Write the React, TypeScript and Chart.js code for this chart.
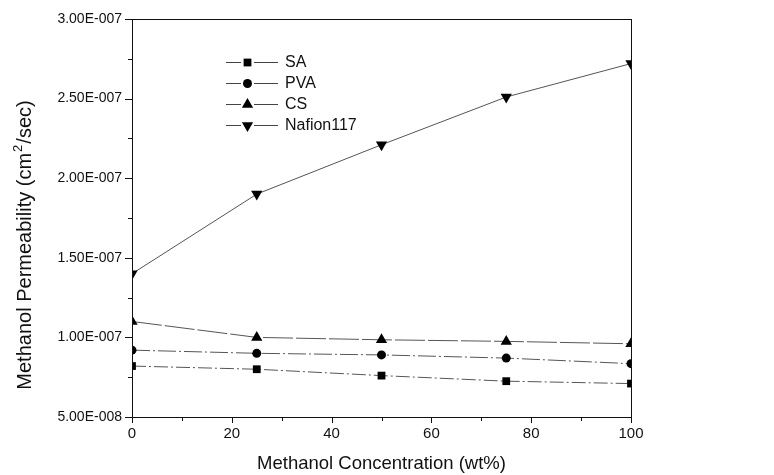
import React, { useEffect, useRef } from "react";
import { Chart, registerables } from "chart.js";
Chart.register(...registerables);

const concentrations = [0, 25, 50, 75, 100];
const saValues = [8.2e-8, 8.0e-8, 7.6e-8, 7.25e-8, 7.1e-8];
const pvaValues = [9.2e-8, 9.0e-8, 8.9e-8, 8.7e-8, 8.35e-8];
const csValues = [1.1e-7, 1.0e-7, 0.985e-7, 0.975e-7, 0.96e-7];
const nafionValues = [1.4e-7, 1.9e-7, 2.21e-7, 2.51e-7, 2.72e-7];
const seriesNames = ["SA", "PVA", "CS", "Nafion117"];
const yMajorTicks = ["5.00E-008", "1.00E-007", "1.50E-007", "2.00E-007", "2.50E-007", "3.00E-007"];
const xMajorTicks = ["0", "20", "40", "60", "80", "100"];
const yTitleParts = ["Methanol Permeability (cm", "2", "/sec)"];

const FONT = "'Liberation Sans', Arial, sans-serif";

function drawMarker(ctx: CanvasRenderingContext2D, style: string, rot: number, x: number, y: number, r: number) {
  ctx.save();
  ctx.translate(x, y);
  ctx.rotate((rot * Math.PI) / 180);
  ctx.beginPath();
  if (style === "rect") {
    const s = r * Math.SQRT1_2 * 2;
    ctx.rect(-s / 2, -s / 2, s, s);
  } else if (style === "circle") {
    ctx.arc(0, 0, r, 0, Math.PI * 2);
  } else {
    ctx.moveTo(0, -r);
    ctx.lineTo(r * 0.866, r * 0.5);
    ctx.lineTo(-r * 0.866, r * 0.5);
    ctx.closePath();
  }
  ctx.fillStyle = "#000";
  ctx.fill();
  ctx.restore();
}

const framePlugin = {
  id: "frameTicks",
  afterDraw(chart: any) {
    const { ctx, chartArea: a, scales } = chart;
    const xs = scales.x, ys = scales.y;
    ctx.save();
    ctx.strokeStyle = "#111";
    ctx.lineWidth = 1;
    ctx.strokeRect(Math.round(a.left) + 0.5, Math.round(a.top) + 0.5, Math.round(a.right - a.left), Math.round(a.bottom - a.top));
    ctx.beginPath();
    for (let v = 0; v <= 100; v += 10) {
      const px = Math.round(xs.getPixelForValue(v)) + 0.5;
      const len = v % 20 === 0 ? 6 : 4;
      ctx.moveTo(px, a.bottom);
      ctx.lineTo(px, a.bottom + len);
    }
    for (let i = 0; i <= 10; i++) {
      const v = 5e-8 + i * 2.5e-8;
      const py = Math.round(ys.getPixelForValue(v)) + 0.5;
      const len = i % 2 === 0 ? 7 : 4;
      ctx.moveTo(a.left, py);
      ctx.lineTo(a.left - len, py);
    }
    ctx.stroke();

    // y-axis title with superscript
    ctx.save();
    ctx.translate(25, 245);
    ctx.rotate(-Math.PI / 2);
    ctx.fillStyle = "#111";
    ctx.textBaseline = "middle";
    ctx.textAlign = "left";
    const big = `20px ${FONT}`, small = `13px ${FONT}`;
    ctx.font = big;
    const w0 = ctx.measureText(yTitleParts[0]).width;
    const w2 = ctx.measureText(yTitleParts[2]).width;
    ctx.font = small;
    const w1 = ctx.measureText(yTitleParts[1]).width + 2;
    const total = w0 + w1 + w2;
    let x = -total / 2;
    ctx.font = big;
    ctx.fillText(yTitleParts[0], x, 0);
    x += w0 + 1;
    ctx.font = small;
    ctx.fillText(yTitleParts[1], x, -7);
    x += w1 - 1;
    ctx.font = big;
    ctx.fillText(yTitleParts[2], x, 0);
    ctx.restore();

    // legend
    const lx = 226, ly0 = 62, dy = 21;
    chart.data.datasets.forEach((ds: any, i: number) => {
      const y = ly0 + i * dy + 0.5;
      ctx.strokeStyle = "#444";
      ctx.lineWidth = 1;
      ctx.setLineDash([]);
      ctx.beginPath();
      ctx.moveTo(lx, y);
      ctx.lineTo(lx + 15, y);
      ctx.moveTo(lx + 28, y);
      ctx.lineTo(lx + 52, y);
      ctx.stroke();
      drawMarker(ctx, ds.pointStyle, ds.pointRotation || 0, lx + 21.5, y, ds.pointRadius);
      ctx.fillStyle = "#111";
      ctx.font = `16px ${FONT}`;
      ctx.textBaseline = "middle";
      ctx.textAlign = "left";
      ctx.fillText(ds.label, lx + 59, y);
    });
    ctx.restore();
  },
};

export default function App() {
  const ref = useRef<HTMLCanvasElement>(null);
  useEffect(() => {
    document.body.style.margin = "0";
    const mk = (label: string, data: number[], style: string, radius: number, dash: number[], rot = 0) => ({
      label,
      data: concentrations.map((c, i) => ({ x: c, y: data[i] })),
      borderColor: "#555",
      borderWidth: 1,
      borderDash: dash,
      backgroundColor: "#000",
      pointBackgroundColor: "#000",
      pointBorderColor: "#000",
      pointBorderWidth: 0,
      pointStyle: style,
      pointRadius: radius,
      pointRotation: rot,
      tension: 0,
    });
    const chart = new Chart(ref.current!, {
      type: "line",
      data: {
        datasets: [
          mk(seriesNames[0], saValues, "rect", 5.5, [14, 3, 2, 3]),
          mk(seriesNames[1], pvaValues, "circle", 4.5, [18, 3, 2, 3]),
          mk(seriesNames[2], csValues, "triangle", 6.5, [30, 3]),
          mk(seriesNames[3], nafionValues, "triangle", 6.5, [], 180),
        ],
      },
      options: {
        animation: false,
        responsive: false,
        maintainAspectRatio: false,
        layout: { padding: { left: 0, right: 143, top: 19, bottom: 0 } },
        plugins: { legend: { display: false }, tooltip: { enabled: false } },
        scales: {
          x: {
            type: "linear",
            min: 0,
            max: 100,
            afterFit: (s: any) => { s.height = 58; },
            afterBuildTicks: (s: any) => { s.ticks = xMajorTicks.map((t) => ({ value: Number(t) })); },
            grid: { display: false, drawTicks: false },
            border: { display: false },
            ticks: { color: "#111", font: { family: FONT, size: 15 }, padding: 8, maxRotation: 0, callback: (v: any) => String(v) },
            title: { display: true, text: "Methanol Concentration (wt%)", color: "#111", font: { family: FONT, size: 18.5 }, padding: { top: 5, bottom: 0 } },
          },
          y: {
            type: "linear",
            min: 5e-8,
            max: 3e-7,
            afterFit: (s: any) => { s.width = 132; },
            afterBuildTicks: (s: any) => { s.ticks = yMajorTicks.map((t) => ({ value: Number(t.replace("E", "e")) })); },
            grid: { display: false, drawTicks: false },
            border: { display: false },
            ticks: {
              color: "#111",
              font: { family: FONT, size: 14 },
              padding: 10,
              callback: (v: any, i: number) => yMajorTicks[i],
            },
            title: { display: false },
          },
        },
      },
      plugins: [framePlugin],
    } as any);
    return () => chart.destroy();
  }, []);
  return (
    <div style={{ width: 774, height: 475 }}>
      <canvas ref={ref} width={774} height={475} style={{ display: "block", background: "#fff" }} />
    </div>
  );
}
